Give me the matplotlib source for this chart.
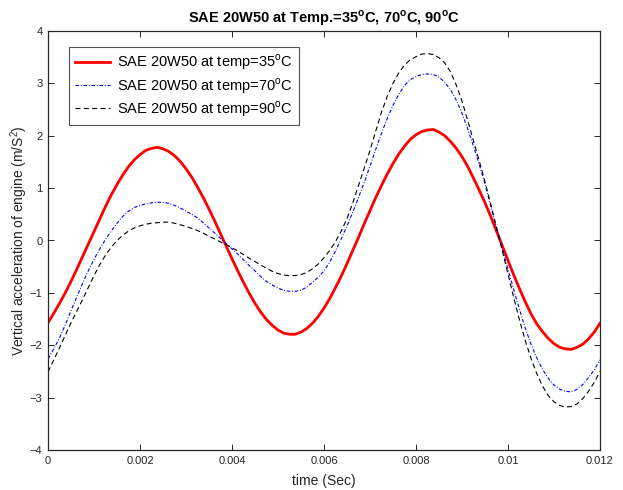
import numpy as np
import matplotlib
matplotlib.use("Agg")
import matplotlib.pyplot as plt
from matplotlib.ticker import FixedLocator, FixedFormatter

plt.rcParams["font.family"] = "Liberation Sans"
plt.rcParams["mathtext.fontset"] = "custom"
plt.rcParams["mathtext.rm"] = "Liberation Sans"
plt.rcParams["mathtext.bf"] = "Liberation Sans:bold"

# sample times (s), one every 0.125 ms
time_s = np.linspace(0, 0.012, 97)

acc_35 = [-1.57, -1.39, -1.20, -1.00, -0.78, -0.55, -0.31, -0.07, 0.17, 0.41,
          0.65, 0.87, 1.07, 1.25, 1.41, 1.54, 1.64, 1.72, 1.76, 1.78,
          1.75, 1.70, 1.62, 1.51, 1.37, 1.21, 1.02, 0.82, 0.60, 0.37,
          0.13, -0.11, -0.35, -0.58, -0.80, -1.01, -1.20, -1.37, -1.51, -1.62,
          -1.71, -1.77, -1.79, -1.79, -1.75, -1.68, -1.58, -1.45, -1.29, -1.11,
          -0.90, -0.68, -0.44, -0.19, 0.06, 0.32, 0.57, 0.82, 1.05, 1.27,
          1.47, 1.65, 1.80, 1.93, 2.02, 2.08, 2.11, 2.12, 2.07, 2.00,
          1.89, 1.76, 1.60, 1.41, 1.19, 0.96, 0.72, 0.46, 0.18, -0.10,
          -0.38, -0.66, -0.92, -1.17, -1.40, -1.59, -1.74, -1.87, -1.97, -2.04,
          -2.07, -2.08, -2.04, -1.98, -1.88, -1.75, -1.58]

acc_70 = [-2.26, -2.07, -1.86, -1.61, -1.34, -1.08, -0.82, -0.58, -0.36, -0.16,
          0.02, 0.18, 0.33, 0.46, 0.56, 0.63, 0.67, 0.70, 0.72, 0.73,
          0.73, 0.71, 0.67, 0.62, 0.56, 0.50, 0.43, 0.34, 0.24, 0.14,
          0.04, -0.06, -0.16, -0.26, -0.37, -0.48, -0.58, -0.69, -0.78, -0.85,
          -0.91, -0.95, -0.97, -0.97, -0.95, -0.89, -0.80, -0.70, -0.58, -0.41,
          -0.20, 0.03, 0.28, 0.54, 0.82, 1.11, 1.42, 1.74, 2.05, 2.33,
          2.58, 2.79, 2.96, 3.07, 3.13, 3.17, 3.18, 3.17, 3.12, 3.02,
          2.88, 2.68, 2.43, 2.13, 1.80, 1.45, 1.08, 0.66, 0.24, -0.16,
          -0.55, -0.94, -1.32, -1.67, -1.98, -2.24, -2.46, -2.63, -2.76, -2.84,
          -2.88, -2.89, -2.84, -2.75, -2.62, -2.47, -2.28]

acc_90 = [-2.51, -2.28, -2.05, -1.81, -1.57, -1.35, -1.13, -0.90, -0.67, -0.46,
          -0.28, -0.13, 0.00, 0.10, 0.18, 0.24, 0.28, 0.31, 0.33, 0.34,
          0.35, 0.35, 0.33, 0.30, 0.27, 0.23, 0.19, 0.14, 0.08, 0.03,
          -0.03, -0.08, -0.14, -0.20, -0.27, -0.34, -0.40, -0.47, -0.53, -0.59,
          -0.63, -0.66, -0.67, -0.67, -0.65, -0.61, -0.54, -0.45, -0.33, -0.19,
          -0.02, 0.18, 0.42, 0.72, 1.05, 1.38, 1.72, 2.09, 2.45, 2.75,
          3.00, 3.20, 3.35, 3.45, 3.51, 3.56, 3.57, 3.55, 3.49, 3.39,
          3.22, 2.97, 2.66, 2.29, 1.90, 1.52, 1.12, 0.69, 0.25, -0.19,
          -0.64, -1.09, -1.52, -1.91, -2.25, -2.54, -2.78, -2.96, -3.08, -3.15,
          -3.18, -3.17, -3.12, -3.02, -2.88, -2.71, -2.50]

x_ticks = [0, 0.002, 0.004, 0.006, 0.008, 0.01, 0.012]
x_tick_labels = ["0", "0.002", "0.004", "0.006", "0.008", "0.01", "0.012"]
y_ticks = [-4, -3, -2, -1, 0, 1, 2, 3, 4]

labels = [r"SAE 20W50 at temp=35$^{\rm o}$C",
          r"SAE 20W50 at temp=70$^{\rm o}$C",
          r"SAE 20W50 at temp=90$^{\rm o}$C"]

axis_col = "#262626"

fig = plt.figure(figsize=(6.23, 4.90), dpi=100)
ax = fig.add_axes([48 / 623, 40 / 490, 552 / 623, 419 / 490])

ax.plot(time_s, acc_35, color="red", lw=2.0, label=labels[0],
        solid_joinstyle="round")
l70, = ax.plot(time_s, acc_70, color="blue", lw=0.8, label=labels[1])
l70.set_dashes([3.2, 1.6, 0.8, 1.6])
l90, = ax.plot(time_s, acc_90, color="black", lw=0.8, label=labels[2])
l90.set_dashes([4.5, 3.0])

ax.set_xlim(0, 0.012)
ax.set_ylim(-4, 4)
ax.xaxis.set_major_locator(FixedLocator(x_ticks))
ax.xaxis.set_major_formatter(FixedFormatter(x_tick_labels))
ax.set_yticks(y_ticks)

ax.tick_params(direction="in", length=4, width=0.7, top=True, right=True,
               labelsize=8, colors=axis_col, pad=4)
for sp in ax.spines.values():
    sp.set_linewidth(0.9)
    sp.set_color(axis_col)

ax.set_xlabel("time (Sec)", fontsize=10, color=axis_col, labelpad=6)
ax.set_ylabel(r"Vertical acceleration of engine (m/S$^2$)", fontsize=10,
              color=axis_col, labelpad=0)
ax.set_title(r"SAE 20W50 at Temp.=35$^{\mathbf{o}}$C, 70$^{\mathbf{o}}$C, 90$^{\mathbf{o}}$C",
             fontsize=10.5, fontweight="bold", pad=6)

leg = ax.legend(loc="upper left", bbox_to_anchor=(0.0386, 0.9625),
                borderaxespad=0, fontsize=10.5, fancybox=False, frameon=True,
                handlelength=2.4, handletextpad=0.5, labelspacing=0.25,
                borderpad=0.4)
leg.get_frame().set_edgecolor(axis_col)
leg.get_frame().set_linewidth(0.8)

fig.savefig("out.png", dpi=100)
